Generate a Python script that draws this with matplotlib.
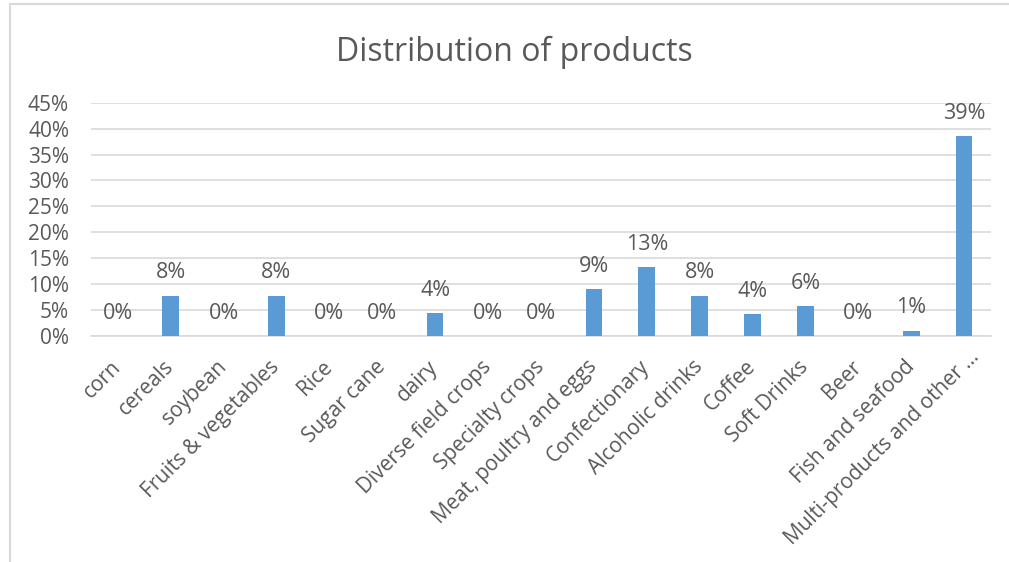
import matplotlib
matplotlib.use("Agg")
import matplotlib.pyplot as plt
import matplotlib.transforms as mtransforms
from matplotlib.lines import Line2D

# Product categories and their share of the total
categories = [
    "corn", "cereals", "soybean", "Fruits & vegetables", "Rice", "Sugar cane",
    "dairy", "Diverse field crops", "Specialty crops", "Meat, poultry and eggs",
    "Confectionary", "Alcoholic drinks", "Coffee", "Soft Drinks", "Beer",
    "Fish and seafood", "Multi-products and other ...",
]
shares = [
    0.0, 0.078, 0.0, 0.078, 0.0, 0.0,
    0.044, 0.0, 0.0, 0.090,
    0.133, 0.078, 0.042, 0.058, 0.0,
    0.010, 0.386,
]
y_ticks = [0.00, 0.05, 0.10, 0.15, 0.20, 0.25, 0.30, 0.35, 0.40, 0.45]
title = "Distribution of products"

TEXT = "#595959"
BAR = "#5B9BD5"
GRID = "#D9D9D9"
FONT = "Open Sans"

plt.rcParams["font.family"] = [FONT, "DejaVu Sans"]

W, H, DPI = 1009, 562, 100
fig = plt.figure(figsize=(W / DPI, H / DPI), dpi=DPI)

# plot area in pixel terms
left_px, right_px = 91.3, 990.6
top_px, bottom_px = 102.7, 336.0
ax = fig.add_axes([left_px / W, 1 - bottom_px / H,
                   (right_px - left_px) / W, (bottom_px - top_px) / H])

x = list(range(len(categories)))
ax.bar(x, shares, width=0.315, color=BAR, zorder=3)

ax.set_xlim(-0.5, len(categories) - 0.5)
ax.set_ylim(0, 0.45)
ax.set_yticks(y_ticks)
ax.set_yticklabels([f"{t:.0%}" for t in y_ticks])
ax.yaxis.grid(True, color=GRID, linewidth=1.2, zorder=0)
ax.set_axisbelow(True)

for side in ("top", "right", "left"):
    ax.spines[side].set_visible(False)
ax.spines["bottom"].set_color(GRID)
ax.spines["bottom"].set_linewidth(1.2)

ax.tick_params(axis="y", length=0, pad=16, labelsize=15, labelcolor=TEXT)
ax.tick_params(axis="x", length=0, pad=20, labelsize=15, labelcolor=TEXT)

ax.set_xticks(x)
ax.set_xticklabels(categories, rotation=45, ha="right", va="center",
                   rotation_mode="anchor")
# the truncated last label sits a little further along its own direction
last = ax.get_xticklabels()[-1]
last.set_transform(last.get_transform() +
                   mtransforms.ScaledTranslation(12 / DPI, 10 / DPI, fig.dpi_scale_trans))

# value labels above each bar
for xi, v in zip(x, shares):
    ax.annotate(f"{v:.0%}", (xi, v), xytext=(0, 12.5), textcoords="offset points",
                ha="center", va="baseline", fontsize=15.5, color=TEXT,
                zorder=4, annotation_clip=False)

fig.text(0.5 * (335 + 693) / W, 1 - 52 / H, title, ha="center", va="center",
         fontsize=23, color=TEXT)

# chart frame
fig.add_artist(Line2D([10 / W, 10 / W], [0, 1 - 3.5 / H], transform=fig.transFigure,
                      color=GRID, linewidth=1.5))
fig.add_artist(Line2D([10 / W, 1], [1 - 3.5 / H, 1 - 3.5 / H], transform=fig.transFigure,
                      color=GRID, linewidth=1.5))

fig.savefig("out.png", dpi=DPI, facecolor="white")
